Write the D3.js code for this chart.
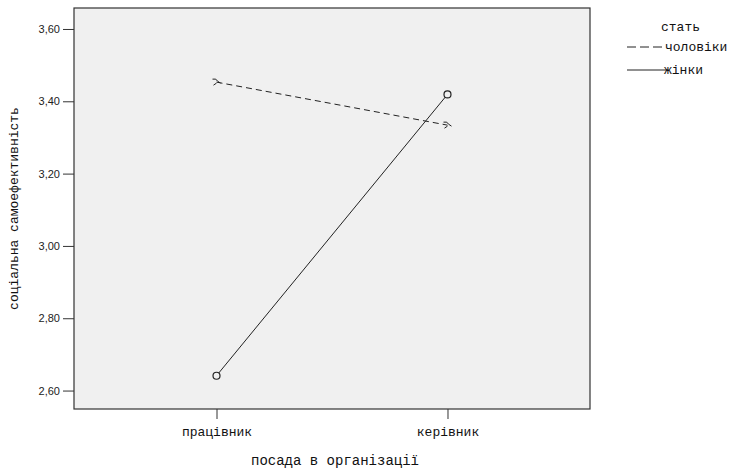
<!DOCTYPE html>
<html lang="uk">
<head>
    <meta charset="UTF-8">
    <title>соціальна самоефективність</title>
    <script src="https://d3js.org/d3.v7.min.js"></script>
    <style>
        body { margin: 0; background: #fff; }
        svg { display: block; }
        .ytick text { font-family: "Liberation Sans", Arial, sans-serif; font-size: 11px; fill: #222; }
        .xtick text { font-family: "Liberation Mono", "DejaVu Sans Mono", monospace; font-size: 13px; fill: #111; }
        .title { font-family: "Liberation Mono", "DejaVu Sans Mono", monospace; font-size: 14px; fill: #111; }
        .legend text { font-family: "Liberation Mono", "DejaVu Sans Mono", monospace; font-size: 13px; fill: #111; }
    </style>
</head>
<body>
    <svg id="chart" width="734" height="472"></svg>

    <script>
        // data
        const categories = ["працівник", "керівник"];
        const seriesNames = ["чоловіки", "жінки"];
        const menValues = [3.453, 3.334];
        const womenValues = [2.641, 3.419];
        const yTicks = [2.6, 2.8, 3.0, 3.2, 3.4, 3.6];

        const plotLeft = 74, plotRight = 590, plotTop = 8, plotBottom = 409;
        const svg = d3.select("#chart");

        const x = d3.scalePoint().domain(categories).range([plotLeft, plotRight]).padding(0.617);
        const y = d3.scaleLinear().domain([2.549, 3.658]).range([plotBottom, plotTop]);

        // plot background
        svg.append("rect")
            .attr("x", plotLeft).attr("y", plotTop)
            .attr("width", plotRight - plotLeft).attr("height", plotBottom - plotTop)
            .attr("fill", "#f0f0f0")
            .attr("stroke", "#333").attr("stroke-width", 1.2);

        // y axis
        const yAxis = svg.append("g")
            .attr("class", "ytick")
            .attr("transform", `translate(${plotLeft},0)`)
            .call(d3.axisLeft(y).tickValues(yTicks).tickSize(11).tickPadding(3)
                .tickFormat(d => d3.format(".2f")(d).replace(".", ",")));
        yAxis.select(".domain").remove();
        yAxis.selectAll("line").attr("stroke", "#333");

        // x axis
        const xAxis = svg.append("g")
            .attr("class", "xtick")
            .attr("transform", `translate(0,${plotBottom})`)
            .call(d3.axisBottom(x).tickSize(10).tickPadding(8));
        xAxis.select(".domain").remove();
        xAxis.selectAll("line").attr("stroke", "#333");

        // titles
        svg.append("text")
            .attr("class", "title")
            .attr("x", 335)
            .attr("y", 465)
            .attr("text-anchor", "middle")
            .text("посада в організації");

        svg.append("text")
            .attr("class", "title")
            .attr("transform", `translate(18,${(plotTop + plotBottom) / 2}) rotate(-90)`)
            .attr("text-anchor", "middle")
            .style("font-size", "13px")
            .text("соціальна самоефективність");

        const line = d3.line().x((d, i) => x(categories[i])).y(d => y(d));

        // men (dashed)
        svg.append("path")
            .datum(menValues)
            .attr("d", line)
            .attr("fill", "none")
            .attr("stroke", "#222")
            .attr("stroke-width", 1)
            .attr("stroke-dasharray", "6,4");

        svg.selectAll(".menMark")
            .data(menValues)
            .join("path")
            .attr("class", "menMark")
            .attr("transform", (d, i) => `translate(${x(categories[i])},${y(d)})`)
            .attr("d", "M-4,-3 Q0,-4 1,-1 L4,1 M-3,3 L0,1")
            .attr("fill", "none")
            .attr("stroke", "#222")
            .attr("stroke-width", 1);

        // women (solid)
        svg.append("path")
            .datum(womenValues)
            .attr("d", line)
            .attr("fill", "none")
            .attr("stroke", "#222")
            .attr("stroke-width", 1);

        svg.selectAll(".womenMark")
            .data(womenValues)
            .join("circle")
            .attr("class", "womenMark")
            .attr("cx", (d, i) => x(categories[i]))
            .attr("cy", d => y(d))
            .attr("r", 3.5)
            .attr("fill", "#f0f0f0")
            .attr("stroke", "#222")
            .attr("stroke-width", 1.2);

        // legend
        const legend = svg.append("g").attr("class", "legend");
        legend.append("text").attr("x", 661).attr("y", 31).text("стать");
        const dashes = ["9,4", null];
        seriesNames.forEach((name, i) => {
            const ly = 47 + i * 23;
            legend.append("line")
                .attr("x1", 627).attr("x2", i === 0 ? 662 : 668)
                .attr("y1", ly).attr("y2", ly)
                .attr("stroke", "#222")
                .attr("stroke-dasharray", dashes[i]);
            legend.append("text")
                .attr("x", i === 0 ? 665 : 664)
                .attr("y", ly + 4)
                .text(name);
        });
    </script>
</body>
</html>
